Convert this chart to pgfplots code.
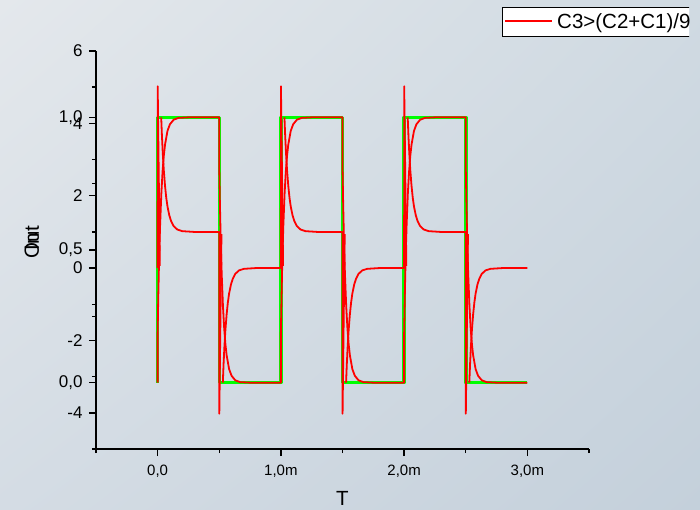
\documentclass[border=0pt]{standalone}
\usepackage{fontspec}
\setmainfont{Liberation Sans}
\usepackage{pgfplots}
\pgfplotsset{compat=1.18}
\usetikzlibrary{shadings}
\definecolor{bgUL}{RGB}{228,232,236}
\definecolor{bgUR}{RGB}{208,218,226}
\definecolor{bgLL}{RGB}{212,220,228}
\definecolor{bgLR}{RGB}{196,208,219}
\definecolor{pgreen}{RGB}{0,255,0}
\definecolor{pred}{RGB}{255,0,0}
\pgfplotsset{
  common/.style={
    at={(96pt,60pt)}, anchor=south west, scale only axis,
    width=493pt, height=398pt,
    xmin=-0.5, xmax=3.5,
    axis line style={line width=2pt, -},
    tick style={line width=1.4pt, black},
    major tick length=7pt, minor tick length=4pt,
    tick align=outside,
    xticklabel style={font=\fontsize{15}{17}\selectfont, yshift=-5pt},
    yticklabel style={font=\fontsize{17}{19}\selectfont, xshift=-3pt},
    label style={font=\fontsize{20.5}{22}\selectfont},
    xlabel style={at={(axis description cs:0.5,-0.123)}, anchor=center},
    ylabel style={at={(axis description cs:-0.13,0.52)}, anchor=center},
    unbounded coords=jump,
  }
}
\begin{document}
\begin{tikzpicture}
\useasboundingbox (0pt,0pt) rectangle (700pt,509pt);
\shade[upper left=bgUL, upper right=bgUR, lower left=bgLL, lower right=bgLR] (0pt,0pt) rectangle (700pt,509pt);

\begin{axis}[common, ymin=-5, ymax=6,
  axis x line*=bottom, axis y line*=left,
  xtick={0,1,2,3}, xticklabels={{0,0},{1,0m},{2,0m},{3,0m}},
  minor xtick={-0.5,0.5,1.5,2.5,3.5},
  ytick={-4,-2,0,2,4,6}, yticklabels={-4,-2,0,2,4,6},
  minor ytick={-5,-3,-1,1,3,5},
  xlabel={T}, ylabel={Out}]
\end{axis}

\begin{axis}[common, ymin=-0.25, ymax=1.25,
  axis x line=none, axis y line*=left,
  ytick={0,0.5,1}, yticklabels={{0,0},{0,5},{1,0}},
  minor ytick={0.25,0.75},
  ylabel={In}]
\addplot[pgreen, line width=3.5pt, line join=round] coordinates {
(0,0)(0,1)(0.5,1)(0.5,0)(1,0)(1,1)(1.5,1)(1.5,0)(2,0)(2,1)(2.5,1)(2.5,0)(3,0)};
% slow output curve
\addplot[pred, line width=1.8pt, line join=round] coordinates {
(0,0)(0,0.187)(0.005,0.316)(0.01,0.424)(0.015,0.515)(0.02,0.592)(0.03,0.711)(0.04,0.795)(0.05,0.855)(0.06,0.897)(0.08,0.949)(0.1,0.974)(0.13,0.991)(0.17,0.998)(0.25,1)(0.5,1)
(0.5,0.813)(0.505,0.684)(0.51,0.576)(0.515,0.485)(0.52,0.408)(0.53,0.289)(0.54,0.205)(0.55,0.145)(0.56,0.103)(0.58,0.051)(0.6,0.026)(0.63,0.009)(0.67,0.002)(0.75,0)(1,0)
(1,0.187)(1.005,0.316)(1.01,0.424)(1.015,0.515)(1.02,0.592)(1.03,0.711)(1.04,0.795)(1.05,0.855)(1.06,0.897)(1.08,0.949)(1.1,0.974)(1.13,0.991)(1.17,0.998)(1.25,1)(1.5,1)
(1.5,0.813)(1.505,0.684)(1.51,0.576)(1.515,0.485)(1.52,0.408)(1.53,0.289)(1.54,0.205)(1.55,0.145)(1.56,0.103)(1.58,0.051)(1.6,0.026)(1.63,0.009)(1.67,0.002)(1.75,0)(2,0)
(2,0.187)(2.005,0.316)(2.01,0.424)(2.015,0.515)(2.02,0.592)(2.03,0.711)(2.04,0.795)(2.05,0.855)(2.06,0.897)(2.08,0.949)(2.1,0.974)(2.13,0.991)(2.17,0.998)(2.25,1)(2.5,1)
(2.5,0.813)(2.505,0.684)(2.51,0.576)(2.515,0.485)(2.52,0.408)(2.53,0.289)(2.54,0.205)(2.55,0.145)(2.56,0.103)(2.58,0.051)(2.6,0.026)(2.63,0.009)(2.67,0.002)(2.75,0)(3,0)};
% spiking output curve
\addplot[pred, line width=1.8pt, line join=round] coordinates {
(0,0.432)(0.0005,1.117)(0.018,0.44)(0.02,nan)(0.029,1.0)(0.035,0.930)(0.042,0.863)(0.05,0.801)(0.06,0.742)(0.07,0.697)(0.08,0.664)(0.095,0.630)(0.11,0.608)(0.13,0.590)(0.16,0.577)(0.2,0.571)(0.3,0.568)(0.5,0.568)
(0.5005,-0.117)(0.518,0.56)(0.52,nan)(0.529,0.0)(0.535,0.070)(0.542,0.137)(0.55,0.199)(0.56,0.258)(0.57,0.303)(0.58,0.336)(0.595,0.370)(0.61,0.392)(0.63,0.410)(0.66,0.423)(0.7,0.429)(0.8,0.432)(1.0,0.432)
(1.0005,1.117)(1.018,0.44)(1.02,nan)(1.029,1.0)(1.035,0.930)(1.042,0.863)(1.05,0.801)(1.06,0.742)(1.07,0.697)(1.08,0.664)(1.095,0.630)(1.11,0.608)(1.13,0.590)(1.16,0.577)(1.2,0.571)(1.3,0.568)(1.5,0.568)
(1.5005,-0.117)(1.518,0.56)(1.52,nan)(1.529,0.0)(1.535,0.070)(1.542,0.137)(1.55,0.199)(1.56,0.258)(1.57,0.303)(1.58,0.336)(1.595,0.370)(1.61,0.392)(1.63,0.410)(1.66,0.423)(1.7,0.429)(1.8,0.432)(2.0,0.432)
(2.0005,1.117)(2.018,0.44)(2.02,nan)(2.029,1.0)(2.035,0.930)(2.042,0.863)(2.05,0.801)(2.06,0.742)(2.07,0.697)(2.08,0.664)(2.095,0.630)(2.11,0.608)(2.13,0.590)(2.16,0.577)(2.2,0.571)(2.3,0.568)(2.5,0.568)
(2.5005,-0.117)(2.518,0.56)(2.52,nan)(2.529,0.0)(2.535,0.070)(2.542,0.137)(2.55,0.199)(2.56,0.258)(2.57,0.303)(2.58,0.336)(2.595,0.370)(2.61,0.392)(2.63,0.410)(2.66,0.423)(2.7,0.429)(2.8,0.432)(3.0,0.432)};
\end{axis}

% legend
\begin{scope}
\clip (495pt,465pt) rectangle (689pt,509pt);
\fill[white] (502pt,473pt) rectangle (700pt,502pt);
\draw[black, line width=0.8pt] (700pt,473pt) -- (502pt,473pt) -- (502pt,502pt) -- (700pt,502pt);
\draw[pred, line width=1.6pt] (505pt,488pt) -- (552pt,488pt);
\node[anchor=base west, inner sep=0pt, font=\fontsize{20.5}{22}\selectfont] at (557pt,480pt) {C3>(C2+C1)/9};
\end{scope}
\end{tikzpicture}
\end{document}
